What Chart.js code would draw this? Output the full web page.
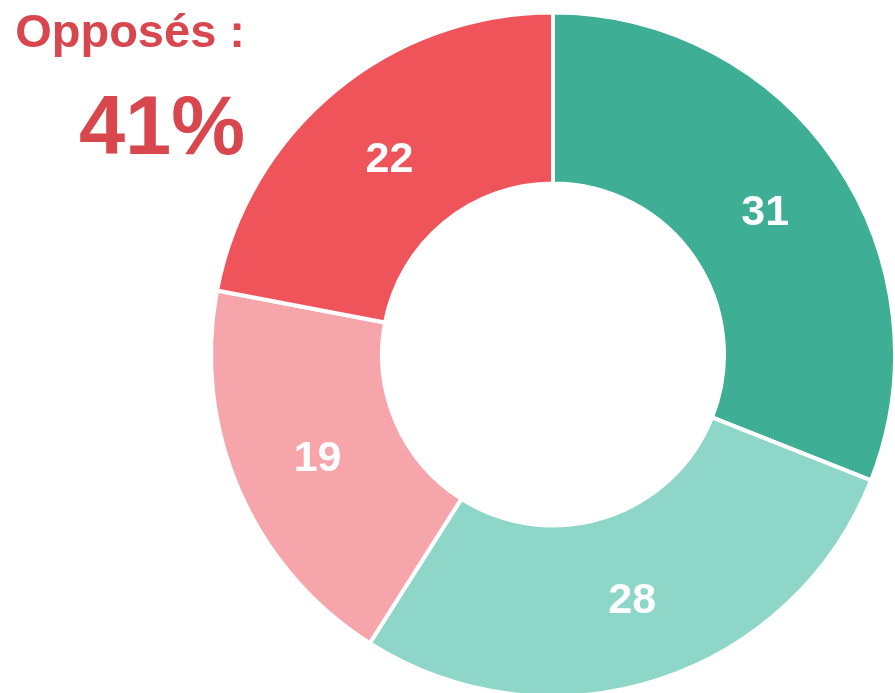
<!DOCTYPE html>
<html>
<head>
<meta charset="utf-8">
<script src="https://cdn.jsdelivr.net/npm/chart.js@4"></script>
<style>
  html, body { margin: 0; padding: 0; background: #fff; }
  #wrap { position: relative; width: 895px; height: 693px; }
  .titre { position: absolute; right: 650px; font-family: "Liberation Sans", Arial, sans-serif; font-weight: bold; color: #d8464e; white-space: nowrap; }
  #t1 { top: 3px; font-size: 47px; }
  #t2 { top: 78px; font-size: 83px; }
</style>
</head>
<body>
<div id="wrap">
  <canvas id="donut" width="895" height="693"></canvas>
  <div class="titre" id="t1">Opposés :</div>
  <div class="titre" id="t2">41%</div>
</div>
<script>
// valeurs, sens horaire depuis midi
const categories = ["Très favorables", "Plutôt favorables", "Plutôt opposés", "Très opposés"];
const valeurs = [31, 28, 19, 22];
const couleurs = ["#3eae95", "#8ed6c8", "#f6a6aa", "#ef545a"];

// étiquettes blanches au milieu de chaque part
const etiquettes = {
    id: "etiquettes",
    afterDatasetsDraw(chart) {
        const ctx = chart.ctx;
        const meta = chart.getDatasetMeta(0);
        ctx.save();
        ctx.fillStyle = "#fff";
        ctx.font = "bold 43px 'Liberation Sans', Arial, sans-serif";
        ctx.textAlign = "center";
        ctx.textBaseline = "middle";
        meta.data.forEach((arc, i) => {
            const p = arc.tooltipPosition();
            ctx.fillText(valeurs[i], p.x, p.y + 3);
        });
        ctx.restore();
    }
};

new Chart(document.getElementById("donut"), {
    type: "doughnut",
    data: {
        labels: categories,
        datasets: [{
            data: valeurs,
            backgroundColor: couleurs,
            borderColor: "#fff",
            borderWidth: 4
        }]
    },
    options: {
        responsive: false,
        animation: false,
        radius: 342,
        cutout: "50%",
        layout: { padding: { left: 211, right: 0, top: 16, bottom: 0 } },
        plugins: { legend: { display: false }, tooltip: { enabled: false } }
    },
    plugins: [etiquettes]
});
</script>
</body>
</html>
